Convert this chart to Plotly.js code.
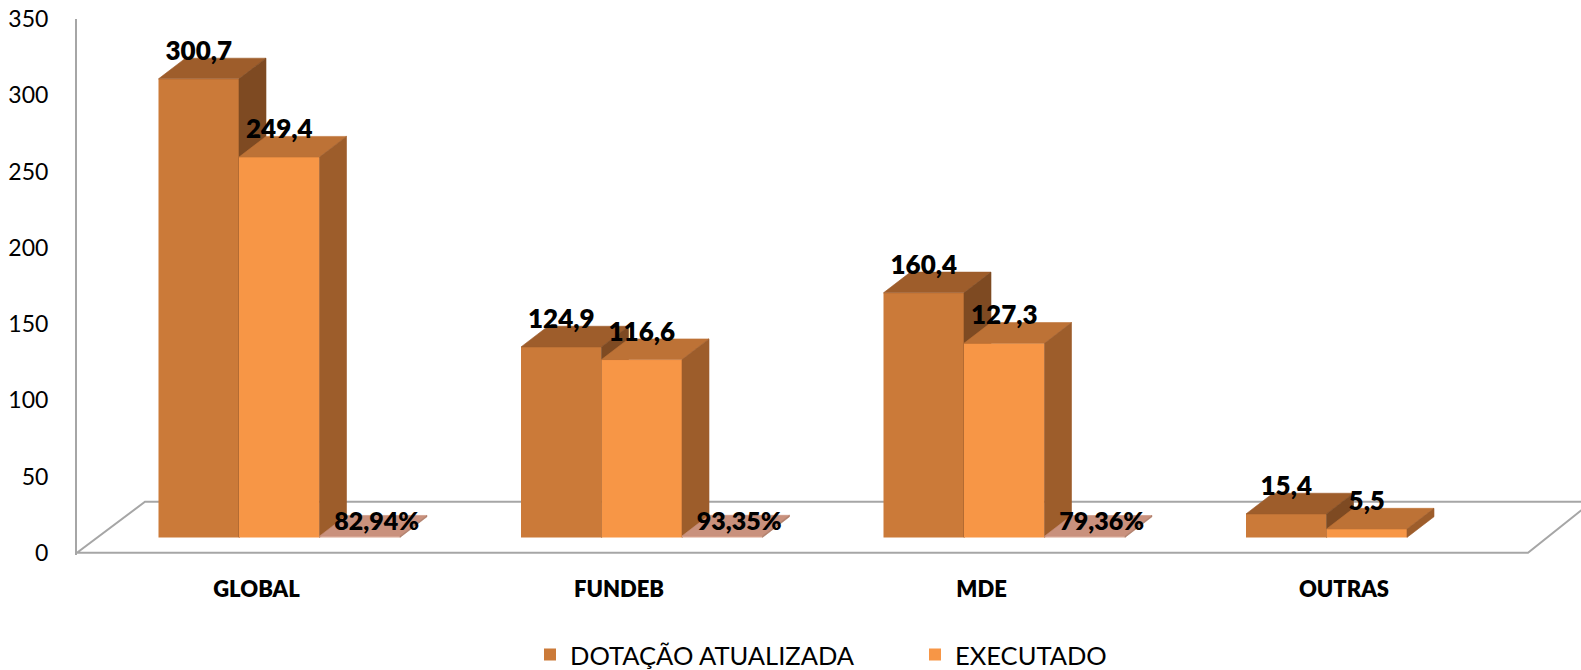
<!DOCTYPE html>
<html>
<head>
<meta charset="utf-8">
<script src="https://cdn.plot.ly/plotly-3.0.1.min.js"></script>
<style>html,body{margin:0;padding:0;background:#fff;}#chart{width:1581px;height:670px;}</style>
</head>
<body>
<div id="chart"></div>
<script>
// ---- data ----
const categories = ['GLOBAL', 'FUNDEB', 'MDE', 'OUTRAS'];
const dotacao = [300.7, 124.9, 160.4, 15.4];
const executado = [249.4, 116.6, 127.3, 5.5];
const percentual = [82.94, 93.35, 79.36, null];
const seriesNames = ['DOTAÇÃO ATUALIZADA', 'EXECUTADO'];

// ---- geometry (px -> axis units) ----
const PXX = 362.5;            // px per category
const X0 = -179.5 / PXX;      // x range start
const X1 = X0 + 1504 / PXX;   // x range end
const PXY = 1.5257;           // px per value unit
const Y2MIN = -11.54, Y2MAX = 339.96;
const BW = 80.5 / PXX;
const OFF = -98 / PXX;
const DX = 27 / PXX, DY = 20.7 / PXY;

const FONT = 'Lato, "Open Sans", sans-serif';

const colors = {
  dot: {front: '#CB7A39', top: '#9E5D2B', side: '#7E4A22'},
  exe: {front: '#F79646', top: '#BD7236', side: '#9D5D2B'},
  pct: {front: '#D8A28C', top: '#C9917D', side: '#B07E6A'}
};

function fmt(v, d) { return v.toFixed(d).replace('.', ','); }

const traces = [];
function addSeries(vals, idx, col, yaxis, name, showLegend) {
  const xs = categories.map((c, i) => i);
  traces.push({
    type: 'bar', x: xs, y: vals, width: BW, offset: OFF + idx * BW,
    marker: {color: col.front, line: {width: 0}},
    name: name || '', showlegend: !!showLegend, yaxis: yaxis, hoverinfo: 'skip'
  });
  vals.forEach((v, i) => {
    if (v === null || v === undefined) return;
    const a = i + OFF + idx * BW, b = a + BW;
    traces.push({
      type: 'scatter', mode: 'lines', fill: 'toself', fillcolor: col.top,
      line: {width: 0.6, color: col.top}, showlegend: false, yaxis: yaxis, hoverinfo: 'skip',
      x: [a, a + DX, b + DX, b, a], y: [v, v + DY, v + DY, v, v]
    });
    traces.push({
      type: 'scatter', mode: 'lines', fill: 'toself', fillcolor: col.side,
      line: {width: 0.6, color: col.side}, showlegend: false, yaxis: yaxis, hoverinfo: 'skip',
      x: [b, b + DX, b + DX, b, b], y: [0, DY, v + DY, v, 0]
    });
  });
}

addSeries(dotacao, 0, colors.dot, 'y2', seriesNames[0], true);
addSeries(executado, 1, colors.exe, 'y3', seriesNames[1], true);
const pctVals = percentual.map(p => p === null ? null : p / 100);
addSeries(pctVals, 2, colors.pct, 'y4', '', false);

// value labels
const labelFont = {family: FONT, size: 26, color: '#000', weight: 800};
[[dotacao, 0, 'y2'], [executado, 1, 'y3']].forEach(([vals, idx, ya]) => {
  traces.push({
    type: 'scatter', mode: 'text', yaxis: ya, showlegend: false, hoverinfo: 'skip',
    x: vals.map((v, i) => i + OFF + idx * BW + BW / 2),
    y: vals.map(v => v + 25.5 / PXY),
    text: vals.map(v => fmt(v, 1)),
    textposition: 'middle center', textfont: labelFont, cliponaxis: false
  });
});
traces.push({
  type: 'scatter', mode: 'text', yaxis: 'y4', showlegend: false, hoverinfo: 'skip',
  x: percentual.map((p, i) => i + OFF + 2 * BW + BW / 2 + 17 / PXX),
  y: percentual.map(p => p === null ? null : 14 / PXY),
  text: percentual.map(p => p === null ? '' : fmt(p, 2) + '%'),
  textposition: 'middle center', textfont: {family: FONT, size: 25, color: '#000', weight: 800}, cliponaxis: false
});

const gray = '#A6A6A6';
const floorBack = 51 / PXY;
const shapes = [
  {type: 'path', xref: 'x', yref: 'y', layer: 'below',
   path: 'M' + X0 + ',0 L' + (X0 + 68 / PXX) + ',' + floorBack +
         ' L' + (3.5076 + 64 / PXX) + ',' + floorBack + ' L3.5076,0 Z',
   line: {color: gray, width: 2}, fillcolor: 'rgba(0,0,0,0)'}
];

const axHidden = {overlaying: 'y', range: [Y2MIN, Y2MAX], visible: false, fixedrange: true};

const layout = {
  width: 1581, height: 670,
  margin: {l: 77, r: 0, t: 19, b: 114.7},
  paper_bgcolor: '#fff', plot_bgcolor: 'rgba(0,0,0,0)',
  font: {family: FONT, color: '#000'},
  barmode: 'overlay',
  showlegend: true,
  xaxis: {
    range: [X0, X1], tickvals: [0, 1, 2, 3], ticktext: categories,
    showgrid: false, zeroline: false, showline: false,
    ticks: 'outside', ticklen: 15, tickcolor: 'rgba(0,0,0,0)',
    tickfont: {family: FONT, size: 22, color: '#000', weight: 800}, fixedrange: true
  },
  yaxis: {
    range: [-1.5, 350], tickvals: [0, 50, 100, 150, 200, 250, 300, 350],
    showgrid: false, zeroline: false, showline: true, linecolor: gray, linewidth: 2,
    ticks: 'outside', ticklen: 22, tickcolor: 'rgba(0,0,0,0)',
    tickfont: {family: FONT, size: 23, color: '#000'}, fixedrange: true
  },
  yaxis2: axHidden,
  yaxis3: Object.assign({}, axHidden),
  yaxis4: Object.assign({}, axHidden),
  legend: {
    orientation: 'h', xref: 'container', yref: 'container',
    x: 530 / 1581, xanchor: 'left', y: 1 - 655 / 670, yanchor: 'middle',
    font: {family: FONT, size: 25.5, color: '#000'},
    entrywidth: 340, entrywidthmode: 'pixels', bgcolor: 'rgba(0,0,0,0)'
  },
  shapes: shapes
};

Plotly.newPlot('chart', traces, layout, {displayModeBar: false, staticPlot: true});
</script>
</body>
</html>
